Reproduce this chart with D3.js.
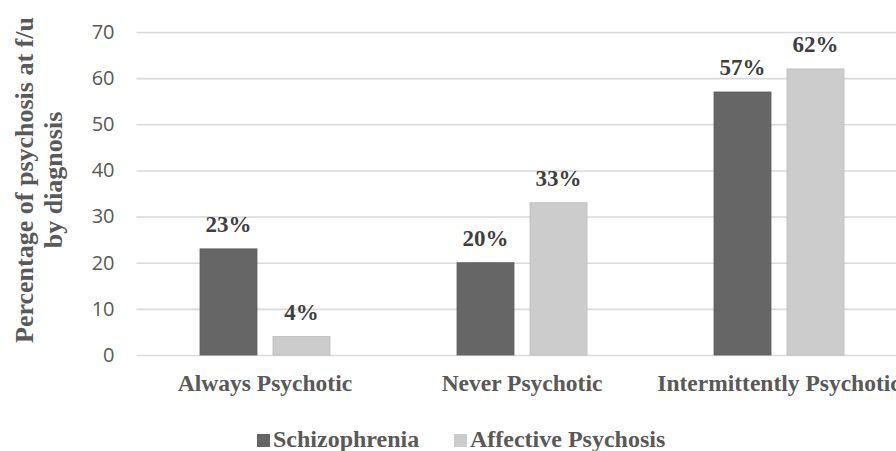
<!DOCTYPE html>
<html>
<head>
<meta charset="utf-8">
<script src="https://cdn.jsdelivr.net/npm/d3@7/dist/d3.min.js"></script>
<style>
  html, body { margin: 0; padding: 0; background: #ffffff; }
  svg { display: block; }
</style>
</head>
<body>
<div id="chart"></div>
<script>
// Outcome categories and the two diagnostic groups
const categories = ["Always Psychotic", "Never Psychotic", "Intermittently Psychotic"];
const seriesNames = ["Schizophrenia", "Affective Psychosis"];
const schizophrenia = [23, 20, 57];
const affectivePsychosis = [4, 33, 62];
const yTicks = [0, 10, 20, 30, 40, 50, 60, 70];
const seriesColors = ["#666666", "#cccccc"];

const width = 896, height = 451;
const plot = { left: 136.5, right: 907.5, top: 32, bottom: 355 };

const svg = d3.select("#chart").append("svg")
  .attr("width", width)
  .attr("height", height);

svg.append("rect").attr("width", width).attr("height", height).attr("fill", "#ffffff");

const y = d3.scaleLinear().domain([0, 70]).range([plot.bottom, plot.top]);
const x0 = d3.scaleBand().domain(categories).range([plot.left, plot.right]).padding(0);
const x1 = d3.scaleBand().domain(seriesNames)
  .range([(x0.bandwidth() - 130) / 2, (x0.bandwidth() + 130) / 2])
  .paddingInner(16 / 73).paddingOuter(0);
const color = d3.scaleOrdinal().domain(seriesNames).range(seriesColors);

// Gridlines and value axis
const yAxis = d3.axisLeft(y)
  .tickValues(yTicks)
  .tickSize(-(plot.right - plot.left))
  .tickPadding(22)
  .tickFormat(d3.format("d"));

const gy = svg.append("g")
  .attr("transform", `translate(${plot.left},0)`)
  .call(yAxis);
gy.select(".domain").remove();
gy.selectAll(".tick line").attr("stroke", "#d9d9d9").attr("stroke-width", 1.6);
gy.selectAll(".tick text")
  .attr("fill", "#595959")
  .style("font-family", "'Open Sans', sans-serif")
  .style("font-size", "20px");

// Bars
const rows = categories.map((c, i) => ({
  category: c,
  values: [
    { series: seriesNames[0], value: schizophrenia[i] },
    { series: seriesNames[1], value: affectivePsychosis[i] }
  ]
}));

const groups = svg.append("g").selectAll("g")
  .data(rows)
  .join("g")
  .attr("transform", d => `translate(${x0(d.category)},0)`);

groups.selectAll("rect")
  .data(d => d.values)
  .join("rect")
  .attr("x", d => x1(d.series))
  .attr("y", d => y(d.value))
  .attr("width", x1.bandwidth())
  .attr("height", d => y(0) - y(d.value))
  .attr("fill", d => color(d.series))
  .attr("stroke", d => d3.color(color(d.series)).darker(0.25))
  .attr("stroke-width", 0.8);

// Value labels above bars
groups.selectAll("text")
  .data(d => d.values)
  .join("text")
  .attr("x", d => x1(d.series) + x1.bandwidth() / 2)
  .attr("y", d => y(d.value) - 17)
  .attr("text-anchor", "middle")
  .attr("fill", "#3f3f3f")
  .style("font-family", "'Liberation Serif', 'Times New Roman', serif")
  .style("font-weight", "bold")
  .style("font-size", "23px")
  .text(d => d.value + "%");

// Category labels (the last one runs past the right edge)
svg.append("g").selectAll("text")
  .data(categories)
  .join("text")
  .attr("x", d => x0(d) + x0.bandwidth() / 2)
  .attr("y", 391)
  .attr("text-anchor", "middle")
  .attr("fill", "#595959")
  .style("font-family", "'Liberation Serif', 'Times New Roman', serif")
  .style("font-weight", "bold")
  .style("font-size", "23.5px")
  .text(d => d);

// Axis title
const title = svg.append("text")
  .attr("transform", "translate(0,180) rotate(-90)")
  .attr("text-anchor", "middle")
  .attr("fill", "#595959")
  .style("font-family", "'Liberation Serif', 'Times New Roman', serif")
  .style("font-weight", "bold")
  .style("font-size", "26px");
title.append("tspan").attr("x", 0).attr("y", 33).text("Percentage of psychosis at f/u");
title.append("tspan").attr("x", 0).attr("y", 62).text("by diagnosis");

// Legend
const legendItems = [
  { name: seriesNames[0], x: 257 },
  { name: seriesNames[1], x: 454 }
];
const legend = svg.append("g").selectAll("g")
  .data(legendItems)
  .join("g")
  .attr("transform", d => `translate(${d.x},0)`);
legend.append("rect")
  .attr("x", 0).attr("y", 434)
  .attr("width", 13).attr("height", 13)
  .attr("fill", d => color(d.name));
legend.append("text")
  .attr("x", 16).attr("y", 447)
  .attr("fill", "#595959")
  .style("font-family", "'Liberation Serif', 'Times New Roman', serif")
  .style("font-weight", "bold")
  .style("font-size", "24px")
  .text(d => d.name);
</script>
</body>
</html>
